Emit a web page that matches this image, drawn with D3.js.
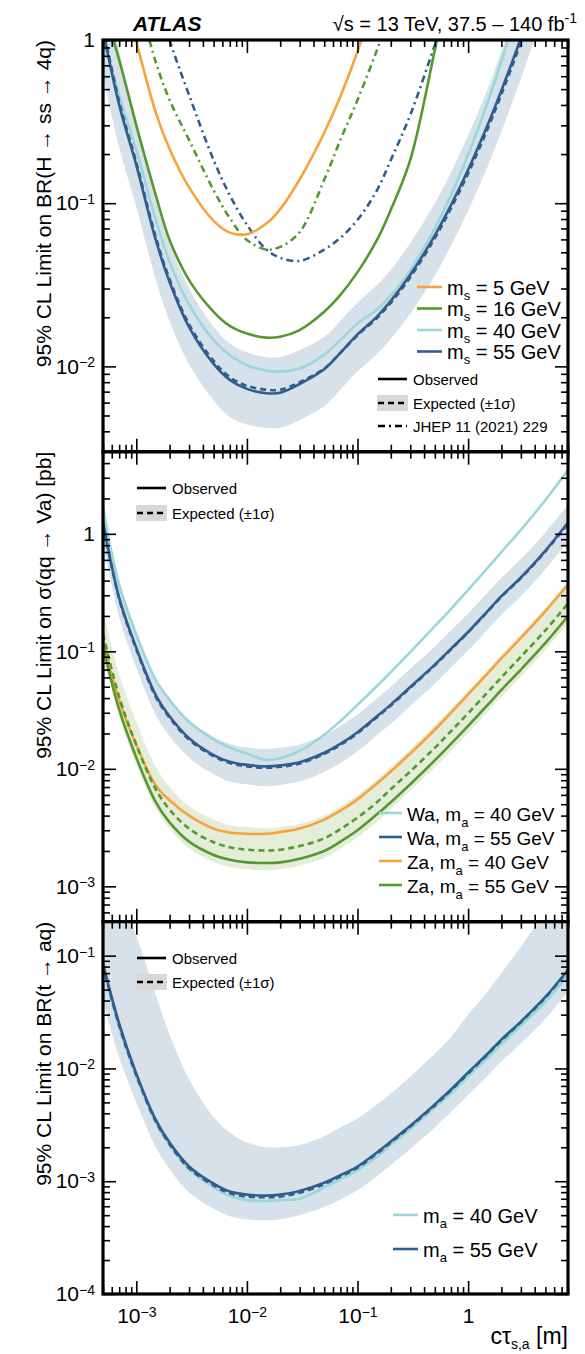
<!DOCTYPE html>
<html>
<head>
<meta charset="utf-8">
<script src="https://cdn.jsdelivr.net/npm/d3@7"></script>
<style>
  body { margin: 0; background: #fff; }
  svg { display: block; }
  text { font-family: "Liberation Sans", Arial, Helvetica, sans-serif; fill: #000; }
</style>
</head>
<body>
<svg id="chart" width="585" height="1354"></svg>
<script>
// Decay length grid cτ [m] shared by every curve
const ctau = [5e-4, 7e-4, 1e-3, 1.5e-3, 2e-3, 3e-3, 5e-3, 7e-3, 1e-2, 1.5e-2, 2e-2, 3e-2, 5e-2, 7e-2,
              0.1, 0.15, 0.2, 0.3, 0.5, 0.7, 1, 1.5, 2, 3, 5, 8];

// Panel 1: BR(H -> ss -> 4q)
const hssObs5   = [null, 2.3, 0.97, 0.36, 0.215, 0.125, 0.078, 0.066, 0.0645, 0.075, 0.092, 0.14, 0.27, 0.45, 0.85, 2.0, null, null, null, null, null, null, null, null, null, null];
const hssObs16  = [1.64, 0.754, 0.30, 0.112, 0.0595, 0.0338, 0.0216, 0.0177, 0.0159, 0.015, 0.0152, 0.0167, 0.0216, 0.0274, 0.0378, 0.0595, 0.091, 0.184, 0.87, 2.7, null, null, null, null, null, null];
const hssObs40  = [1.05, 0.46, 0.212, 0.079, 0.0437, 0.0239, 0.0145, 0.0117, 0.0102, 0.0094, 0.0093, 0.0097, 0.0118, 0.0145, 0.0183, 0.0223, 0.0271, 0.0389, 0.070, 0.112, 0.198, 0.414, 0.741, 1.82, null, null];
const hssObs55  = [1.15, 0.40, 0.171, 0.0595, 0.0329, 0.0174, 0.01035, 0.00826, 0.00728, 0.00685, 0.0069, 0.0078, 0.0096, 0.0121, 0.0157, 0.0202, 0.0252, 0.0364, 0.0635, 0.0972, 0.160, 0.301, 0.491, 1.03, 2.9, null];
const hssExp55  = [1.2, 0.42, 0.178, 0.062, 0.0342, 0.0181, 0.0108, 0.0086, 0.0076, 0.0072, 0.0072, 0.008, 0.0097, 0.0121, 0.0155, 0.0198, 0.0245, 0.0352, 0.061, 0.093, 0.152, 0.285, 0.465, 0.97, 2.7, null];
const hssBandHi = [2.6, 0.85, 0.33, 0.105, 0.057, 0.03, 0.0175, 0.0138, 0.0122, 0.0114, 0.0114, 0.0126, 0.0152, 0.019, 0.0245, 0.0315, 0.039, 0.057, 0.1, 0.155, 0.26, 0.5, 0.85, 1.9, 5.5, null];
const hssBandLo = [0.62, 0.22, 0.095, 0.034, 0.019, 0.0103, 0.0062, 0.0049, 0.0044, 0.0042, 0.0042, 0.0047, 0.0057, 0.0072, 0.0093, 0.0119, 0.0147, 0.021, 0.036, 0.055, 0.09, 0.168, 0.275, 0.58, 1.6, null];
const jhep16    = [null, null, 2.0, 0.733, 0.429, 0.244, 0.12, 0.081, 0.0595, 0.052, 0.054, 0.0665, 0.139, 0.244, 0.429, 0.87, 1.53, null, null, null, null, null, null, null, null, null];
const jhep55    = [null, null, null, 2.0, 1.0, 0.46, 0.184, 0.112, 0.0737, 0.052, 0.0463, 0.0443, 0.052, 0.0613, 0.079, 0.12, 0.184, 0.347, 0.93, 1.76, null, null, null, null, null, null];

// Panel 2: sigma(qq -> Va) [pb]
const waObs40   = [1.66, 0.366, 0.138, 0.0569, 0.0386, 0.025, 0.0178, 0.0152, 0.0135, 0.0119, 0.0123, 0.0142, 0.0195, 0.0255, 0.035, 0.0507, 0.0665, 0.0986, 0.164, 0.229, 0.333, 0.512, 0.70, 1.08, 1.94, 3.49];
const waObs55   = [1.26, 0.285, 0.107, 0.0424, 0.028, 0.0182, 0.0131, 0.0115, 0.0108, 0.0105, 0.0107, 0.0114, 0.0137, 0.0163, 0.0205, 0.028, 0.0352, 0.0497, 0.077, 0.105, 0.146, 0.22, 0.295, 0.425, 0.72, 1.25];
const waExp55   = [1.22, 0.28, 0.104, 0.041, 0.0272, 0.0177, 0.0128, 0.0112, 0.0105, 0.0102, 0.0104, 0.0111, 0.0134, 0.016, 0.0201, 0.0275, 0.0346, 0.049, 0.076, 0.104, 0.145, 0.218, 0.292, 0.42, 0.71, 1.22];
const waBandHi  = [1.8, 0.41, 0.152, 0.06, 0.04, 0.026, 0.0187, 0.0163, 0.0152, 0.0148, 0.0151, 0.0161, 0.0194, 0.0232, 0.0291, 0.0399, 0.05, 0.071, 0.11, 0.151, 0.21, 0.316, 0.423, 0.61, 1.03, 1.77];
const waBandLo  = [0.85, 0.196, 0.073, 0.0287, 0.019, 0.0124, 0.009, 0.0078, 0.0074, 0.0071, 0.0073, 0.0078, 0.0094, 0.0112, 0.0141, 0.0193, 0.0242, 0.0343, 0.053, 0.073, 0.1015, 0.153, 0.204, 0.294, 0.5, 0.85];
const zaObs40   = [0.125, 0.0385, 0.016, 0.0072, 0.0054, 0.004, 0.0031, 0.00287, 0.0028, 0.0028, 0.0029, 0.0031, 0.0037, 0.0044, 0.0055, 0.0075, 0.0095, 0.0135, 0.0215, 0.03, 0.043, 0.065, 0.087, 0.13, 0.22, 0.37];
const zaObs55   = [0.11, 0.032, 0.0125, 0.0052, 0.0035, 0.0024, 0.00185, 0.00168, 0.0016, 0.00158, 0.0016, 0.00172, 0.002, 0.0024, 0.003, 0.0041, 0.0052, 0.0074, 0.0118, 0.0163, 0.0232, 0.035, 0.047, 0.07, 0.118, 0.2];
const zaExp55   = [0.14, 0.041, 0.016, 0.0067, 0.0045, 0.0031, 0.00237, 0.00215, 0.00205, 0.00202, 0.00205, 0.0022, 0.00256, 0.00307, 0.00384, 0.0052, 0.0067, 0.0095, 0.0151, 0.0209, 0.0297, 0.0448, 0.06, 0.09, 0.151, 0.256];
const zaBandHi  = [0.22, 0.064, 0.025, 0.0104, 0.007, 0.0048, 0.0037, 0.0033, 0.0032, 0.0031, 0.0032, 0.0034, 0.004, 0.0048, 0.006, 0.0081, 0.0104, 0.0147, 0.0234, 0.0324, 0.046, 0.069, 0.093, 0.14, 0.234, 0.4];
const zaBandLo  = [0.095, 0.028, 0.0109, 0.0046, 0.0031, 0.0021, 0.00161, 0.00146, 0.0014, 0.00137, 0.0014, 0.0015, 0.00174, 0.00209, 0.00261, 0.00354, 0.00456, 0.0065, 0.0103, 0.0142, 0.0202, 0.0305, 0.041, 0.061, 0.103, 0.174];

// Panel 3: BR(t -> aq)
const taqObs40  = [0.08, 0.023, 0.0085, 0.0033, 0.0021, 0.00128, 0.00088, 0.00074, 0.00068, 0.00067, 0.00068, 0.0007, 0.00088, 0.00104, 0.00125, 0.00165, 0.0021, 0.0029, 0.0045, 0.006, 0.0085, 0.0124, 0.0165, 0.024, 0.039, 0.068];
const taqObs55  = [0.085, 0.025, 0.009, 0.0035, 0.0022, 0.00135, 0.00095, 0.00081, 0.00076, 0.000745, 0.00076, 0.00082, 0.00097, 0.00113, 0.00135, 0.0018, 0.00225, 0.0031, 0.0048, 0.0065, 0.0092, 0.0135, 0.018, 0.026, 0.043, 0.075];
const taqExp55  = [0.082, 0.024, 0.0087, 0.0034, 0.00213, 0.0013, 0.00092, 0.00078, 0.00073, 0.00072, 0.00073, 0.00079, 0.00094, 0.0011, 0.00132, 0.00176, 0.0022, 0.00305, 0.0047, 0.0064, 0.009, 0.0133, 0.0177, 0.0257, 0.0425, 0.074];
const taqBandHi = [1.0, 0.35, 0.15, 0.045, 0.02, 0.008, 0.0037, 0.0027, 0.0022, 0.002, 0.002, 0.0021, 0.0025, 0.003, 0.0036, 0.0048, 0.006, 0.0085, 0.0135, 0.019, 0.03, 0.048, 0.07, 0.12, 0.25, 0.5];
const taqBandLo = [0.04, 0.0125, 0.005, 0.002, 0.00128, 0.0008, 0.00057, 0.00049, 0.00046, 0.00045, 0.00046, 0.0005, 0.00059, 0.00069, 0.00083, 0.00111, 0.00139, 0.00193, 0.003, 0.0041, 0.0058, 0.0086, 0.0115, 0.0167, 0.0275, 0.048];

// Axis ranges and tick values
const xDomain = [5e-4, 8];
const xMajor = [1e-3, 1e-2, 1e-1, 1];
const yDomains = [[3e-3, 1], [5e-4, 5], [1e-4, 0.2]];

const C = {
  orange: "#f9a23c",
  green: "#55992e",
  teal: "#9bd6da",
  blue: "#305d8d",
  blueBand: "#d6e1ea",
  greenBand: "#e3edd8",
  grey: "#d8d8d8"
};

const svg = d3.select("#chart");
const L = 103, R = 568;
const x = d3.scaleLog().domain(xDomain).range([L, R]);
const smooth = d3.curveCatmullRom.alpha(0.5);

function minorTicks(domain) {
  const out = [];
  const d0 = Math.floor(Math.log10(domain[0])), d1 = Math.ceil(Math.log10(domain[1]));
  for (let d = d0; d <= d1; d++) {
    for (let k = 2; k <= 9; k++) {
      const v = k * Math.pow(10, d);
      if (v >= domain[0] * 0.999 && v <= domain[1] * 1.001) out.push(v);
    }
  }
  return out;
}
function majorTicks(domain) {
  const out = [];
  const d0 = Math.ceil(Math.log10(domain[0]) - 1e-9), d1 = Math.floor(Math.log10(domain[1]) + 1e-9);
  for (let d = d0; d <= d1; d++) out.push(Math.pow(10, d));
  return out;
}

// "10" with superscript exponent, or plain "1"
function powerLabel(sel) {
  sel.each(function(d) {
    const t = d3.select(this);
    const e = Math.round(Math.log10(d));
    t.text(null);
    if (e === 0) { t.text("1"); return; }
    t.append("tspan").text("10");
    t.append("tspan").attr("dy", "-0.45em").attr("font-size", "14px").text(e === 1 ? "" : "\u2212" + Math.abs(e));
  });
}

function series(vals) {
  return ctau.map((c, i) => [c, vals[i]]);
}

function drawPanel(idx, top, bottom, opts) {
  const y = d3.scaleLog().domain(yDomains[idx]).range([bottom, top]);
  const g = svg.append("g");
  const clipId = "clip" + idx;
  svg.append("clipPath").attr("id", clipId)
    .append("rect").attr("x", L).attr("y", top).attr("width", R - L).attr("height", bottom - top);
  const plot = g.append("g").attr("clip-path", `url(#${clipId})`);

  const line = d3.line().defined(d => d[1] != null)
    .x(d => x(d[0])).y(d => y(d[1])).curve(smooth);
  const area = d3.area().defined(d => d[1] != null && d[2] != null)
    .x(d => x(d[0])).y0(d => y(d[1])).y1(d => y(d[2])).curve(smooth);

  (opts.bands || []).forEach(b => {
    const data = ctau.map((c, i) => [c, b.lo[i], b.hi[i]]);
    plot.append("path").datum(data).attr("d", area).attr("fill", b.color).attr("stroke", "none");
  });
  (opts.lines || []).forEach(l => {
    plot.append("path").datum(series(l.vals)).attr("d", line)
      .attr("fill", "none").attr("stroke", l.color).attr("stroke-width", l.width || 2.6)
      .attr("stroke-dasharray", l.dash || null).attr("stroke-linejoin", "round");
  });

  // axes with inward ticks on all four sides
  const yMaj = majorTicks(yDomains[idx]), yMin = minorTicks(yDomains[idx]);
  const xMin = minorTicks(xDomain);
  const ax = g.append("g").attr("class", "axes");
  const left = ax.append("g").attr("transform", `translate(${L},0)`)
    .call(d3.axisLeft(y).tickValues(yMaj).tickSize(-13).tickPadding(8));
  left.selectAll(".tick text").attr("font-size", "21px").attr("font-family", "Liberation Sans, Arial, sans-serif").call(powerLabel);
  ax.append("g").attr("transform", `translate(${L},0)`)
    .call(d3.axisLeft(y).tickValues(yMin).tickSize(-7).tickFormat(""));
  ax.append("g").attr("transform", `translate(${R},0)`)
    .call(d3.axisRight(y).tickValues(yMaj).tickSize(-13).tickFormat(""));
  ax.append("g").attr("transform", `translate(${R},0)`)
    .call(d3.axisRight(y).tickValues(yMin).tickSize(-7).tickFormat(""));
  const bottomAx = ax.append("g").attr("transform", `translate(0,${bottom})`)
    .call(d3.axisBottom(x).tickValues(xMajor).tickSize(-13).tickPadding(14).tickFormat(opts.xLabels ? null : ""));
  if (opts.xLabels) {
    bottomAx.selectAll(".tick text").attr("font-size", "21px").attr("font-family", "Liberation Sans, Arial, sans-serif").call(powerLabel);
  }
  ax.append("g").attr("transform", `translate(0,${bottom})`)
    .call(d3.axisBottom(x).tickValues(xMin).tickSize(-7).tickFormat(""));
  ax.append("g").attr("transform", `translate(0,${top})`)
    .call(d3.axisTop(x).tickValues(xMajor).tickSize(-13).tickFormat(""));
  ax.append("g").attr("transform", `translate(0,${top})`)
    .call(d3.axisTop(x).tickValues(xMin).tickSize(-7).tickFormat(""));
  ax.selectAll(".domain").remove();
  ax.selectAll(".tick line").attr("stroke", "#000").attr("stroke-width", 1.6);

  g.append("rect").attr("x", L).attr("y", top).attr("width", R - L).attr("height", bottom - top)
    .attr("fill", "none").attr("stroke", "#000").attr("stroke-width", 3.2);

  // y title, aligned to the top of the frame
  const yt = g.append("text").attr("transform", `translate(51,${top}) rotate(-90)`)
    .attr("text-anchor", "end").attr("font-size", "21px");
  opts.yTitle(yt);
  return { g, y };
}

// legend helpers
function legLine(g, x0, x1, yy, color, dash, w) {
  g.append("line").attr("x1", x0).attr("x2", x1).attr("y1", yy).attr("y2", yy)
    .attr("stroke", color).attr("stroke-width", w || 2.6).attr("stroke-dasharray", dash || null);
}
function legStyleBlock(g, x0, yObs, yExp, yJhep) {
  legLine(g, x0, x0 + 29, yObs, "#000");
  g.append("text").attr("x", x0 + 35).attr("y", yObs + 5.5).attr("font-size", "15px").text("Observed");
  g.append("rect").attr("x", x0 - 1).attr("y", yExp - 8).attr("width", 31).attr("height", 16).attr("fill", C.grey);
  legLine(g, x0, x0 + 29, yExp, "#000", "6,4");
  g.append("text").attr("x", x0 + 35).attr("y", yExp + 5.5).attr("font-size", "15px").text("Expected (\u00b11\u03c3)");
  if (yJhep != null) {
    legLine(g, x0, x0 + 29, yJhep, "#000", "7,4,2,4");
    g.append("text").attr("x", x0 + 35).attr("y", yJhep + 5.5).attr("font-size", "15px").text("JHEP 11 (2021) 229");
  }
}
function massEntry(g, x0, len, yy, color, prefix, sub, rest, subDy, size) {
  legLine(g, x0, x0 + len, yy, color, null, 2.6);
  const t = g.append("text").attr("x", x0 + len + 5).attr("y", yy + 7.5).attr("font-size", (size || 20) + "px");
  t.append("tspan").text(prefix + "m");
  t.append("tspan").attr("dy", subDy).attr("font-size", "13px").text(sub);
  t.append("tspan").attr("dy", -subDy).text(rest);
}

// ---------------- Panel 1 ----------------
drawPanel(0, 40, 451.7, {
  bands: [{ lo: hssBandLo, hi: hssBandHi, color: C.blueBand }],
  lines: [
    { vals: jhep55, color: C.blue, dash: "7,4,2,4" },
    { vals: jhep16, color: C.green, dash: "7,4,2,4" },
    { vals: hssObs5, color: C.orange },
    { vals: hssObs16, color: C.green },
    { vals: hssObs40, color: C.teal },
    { vals: hssExp55, color: C.blue, dash: "6,4" },
    { vals: hssObs55, color: C.blue }
  ],
  yTitle: t => t.text("95% CL Limit on BR(H \u2192 ss \u2192 4q)")
});
{
  const lg = svg.append("g");
  [[C.orange, "5"], [C.green, "16"], [C.teal, "40"], [C.blue, "55"]].forEach((e, i) => {
    massEntry(lg, 417, 25, 287 + i * 21.5, e[0], "", "s", " = " + e[1] + " GeV", 5, 20);
  });
  legStyleBlock(lg, 378, 379, 403, 426);
}

// ---------------- Panel 2 ----------------
drawPanel(1, 451.7, 921.7, {
  bands: [
    { lo: zaBandLo, hi: zaBandHi, color: C.greenBand },
    { lo: waBandLo, hi: waBandHi, color: C.blueBand }
  ],
  lines: [
    { vals: waObs40, color: C.teal },
    { vals: waExp55, color: C.blue, dash: "6,4" },
    { vals: waObs55, color: C.blue },
    { vals: zaObs40, color: C.orange },
    { vals: zaExp55, color: C.green, dash: "6,4" },
    { vals: zaObs55, color: C.green }
  ],
  yTitle: t => t.text("95% CL Limit on \u03c3(qq \u2192 Va) [pb]")
});
{
  const lg = svg.append("g");
  legStyleBlock(lg, 137, 488, 513, null);
  [[C.teal, "Wa, ", "40"], [C.blue, "Wa, ", "55"], [C.orange, "Za, ", "40"], [C.green, "Za, ", "55"]].forEach((e, i) => {
    massEntry(lg, 379, 23, 813 + i * 24, e[0], e[1], "a", " = " + e[2] + " GeV", 6, 19);
  });
}

// ---------------- Panel 3 ----------------
drawPanel(2, 921.7, 1294, {
  bands: [{ lo: taqBandLo, hi: taqBandHi, color: C.blueBand }],
  lines: [
    { vals: taqObs40, color: C.teal },
    { vals: taqExp55, color: C.blue, dash: "6,4" },
    { vals: taqObs55, color: C.blue }
  ],
  xLabels: true,
  yTitle: t => t.text("95% CL Limit on BR(t \u2192 aq)")
});
{
  const lg = svg.append("g");
  legStyleBlock(lg, 137, 958, 982, null);
  massEntry(lg, 393, 25, 1215, C.teal, "", "a", " = 40 GeV", 5, 20);
  massEntry(lg, 393, 25, 1249, C.blue, "", "a", " = 55 GeV", 5, 20);
}

// x-axis title
{
  const t = svg.append("text").attr("x", R).attr("y", 1344).attr("text-anchor", "end").attr("font-size", "23px");
  t.append("tspan").text("c\u03c4");
  t.append("tspan").attr("dy", 5).attr("font-size", "14px").text("s,a");
  t.append("tspan").attr("dy", -5).text(" [m]");
}

// header
svg.append("text").attr("x", 133).attr("y", 31).attr("font-size", "21px")
  .attr("font-weight", "bold").attr("font-style", "italic").text("ATLAS");
{
  const t = svg.append("text").attr("x", 577).attr("y", 31).attr("text-anchor", "end").attr("font-size", "20px");
  t.append("tspan").text("\u221as = 13 TeV, 37.5 \u2013 140 fb");
  t.append("tspan").attr("dy", -8).attr("font-size", "14px").text("-1");
}
</script>
</body>
</html>
